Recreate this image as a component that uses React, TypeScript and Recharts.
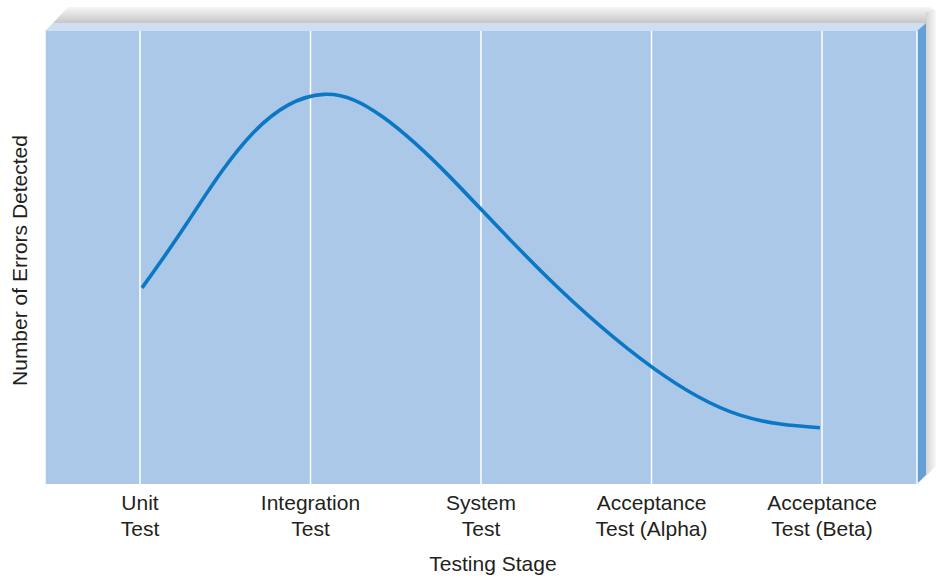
import React from "react";
import { LineChart, Line, XAxis, YAxis, CartesianGrid } from "recharts";

const stageLine1 = ["Unit", "Integration", "System", "Acceptance", "Acceptance"];
const stageLine2 = ["Test", "Test", "Test", "Test (Alpha)", "Test (Beta)"];
const stageTicks = [0, 1, 2, 3, 4];

const curveStage = [0.012, 0.276, 0.663, 1.076, 1.425, 1.818, 2.387, 3.003, 3.519, 3.988];
const curveErrors = [43.3, 57.6, 77.5, 86.0, 81.0, 67.8, 45.7, 25.8, 15.2, 12.4];

const data = curveStage.map((s, i) => ({ stage: s, errors: curveErrors[i] }));

const FONT = "'Liberation Sans', Arial, Helvetica, sans-serif";
const TEXT = "#231f20";

const StageTick = (props: any) => {
  const { x, y, payload } = props;
  const i = stageTicks.indexOf(payload.value);
  return (
    <text x={x} y={y} textAnchor="middle" fill={TEXT} fontFamily={FONT} fontSize={21}>
      <tspan x={x} dy={26}>{stageLine1[i]}</tspan>
      <tspan x={x} dy={26}>{stageLine2[i]}</tspan>
    </text>
  );
};

const XLabel = (props: any) => {
  const vb = props.viewBox;
  return (
    <text x={vb.x + vb.width / 2 + 12} y={vb.y + 87} textAnchor="middle" fill={TEXT} fontFamily={FONT} fontSize={21}>
      Testing Stage
    </text>
  );
};

const YLabel = (props: any) => {
  const vb = props.viewBox;
  const cx = 27;
  const cy = vb.y + vb.height / 2 + 3;
  return (
    <text x={cx} y={cy} transform={`rotate(-90 ${cx} ${cy})`} textAnchor="middle" fill={TEXT} fontFamily={FONT} fontSize={21}>
      Number of Errors Detected
    </text>
  );
};

export default function App() {
  return (
    <div style={{ position: "absolute", left: 0, top: 0, width: 938, height: 577, background: "#fff" }}>
      <svg width={938} height={577} style={{ position: "absolute", left: 0, top: 0 }}>
        <defs>
          <linearGradient id="topShade" x1="0" y1="0" x2="0" y2="1">
            <stop offset="0" stopColor="#f6f6f6" />
            <stop offset="1" stopColor="#c6c6c6" />
          </linearGradient>
          <linearGradient id="rightShade" x1="0" y1="0" x2="1" y2="0">
            <stop offset="0" stopColor="#d4d4d4" />
            <stop offset="1" stopColor="#f8f8f8" />
          </linearGradient>
        </defs>
        <polygon points="53,23 68,7 930,7 936,12 936,23" fill="url(#topShade)" />
        <polygon points="926,12 936,12 936,466 926,476" fill="url(#rightShade)" />
        <polygon points="45,31 53,23 926,23 917,31" fill="#cfdef2" />
        <polygon points="917,31 926,23 926,475 917,484" fill="#64a0d6" />
      </svg>
      <div style={{ position: "absolute", left: 0, top: 0 }}>
        <LineChart width={938} height={577} data={data} margin={{ top: 31, right: 21, left: 0, bottom: 0 }}>
          <CartesianGrid horizontal={false} vertical={true} stroke="#ffffff" strokeWidth={1.5} fill="#abc8e8" fillOpacity={1} />
          <XAxis
            dataKey="stage"
            type="number"
            domain={[-0.557, 4.557]}
            ticks={stageTicks}
            axisLine={false}
            tickLine={false}
            tickSize={0}
            tickMargin={0}
            height={93}
            tick={<StageTick />}
            interval={0}
            label={<XLabel />}
          />
          <YAxis
            type="number"
            domain={[0, 100]}
            width={45}
            tick={false}
            axisLine={false}
            tickLine={false}
            label={<YLabel />}
          />
          <Line
            type="natural"
            dataKey="errors"
            stroke="#0a78c4"
            strokeWidth={3.6}
            dot={false}
            isAnimationActive={false}
          />
        </LineChart>
      </div>
    </div>
  );
}
